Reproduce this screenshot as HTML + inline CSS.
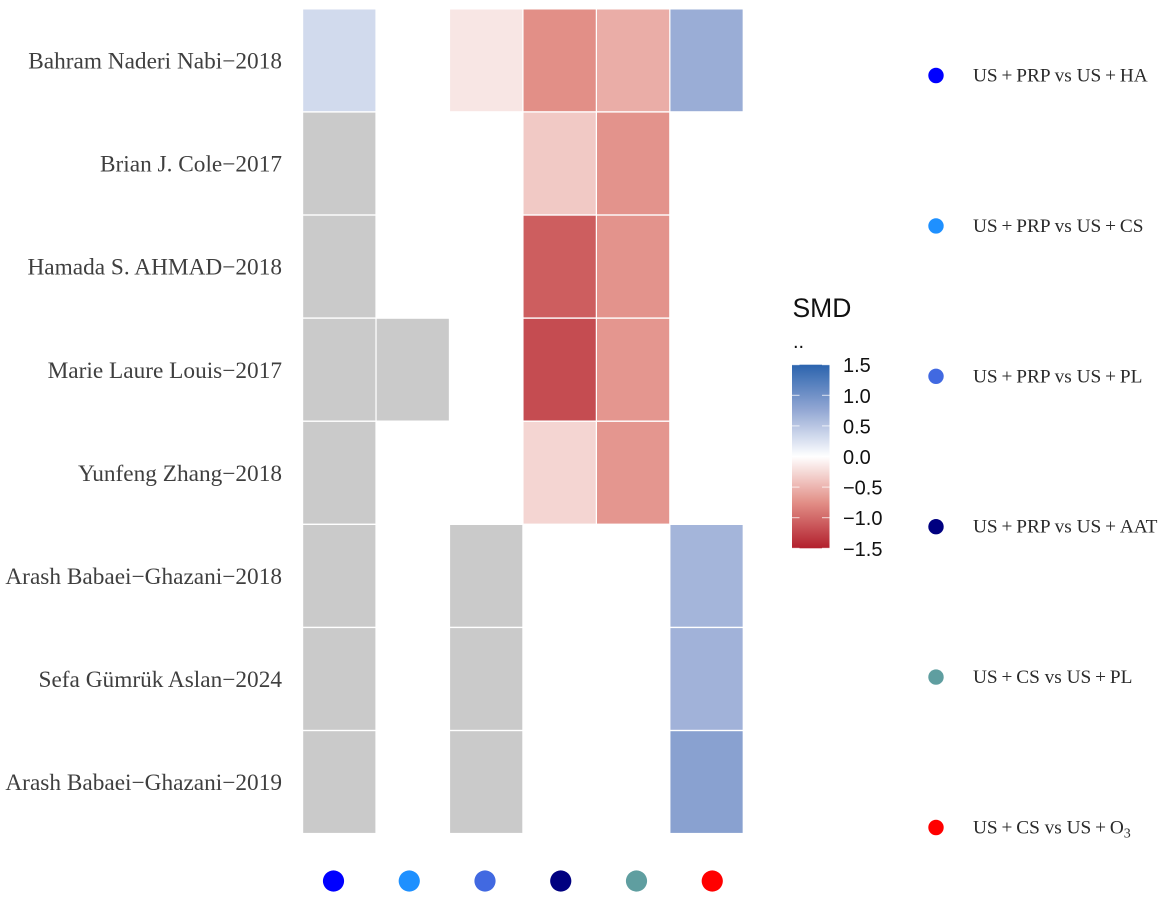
<!DOCTYPE html>
<html lang="en">
<head>
<meta charset="utf-8">
<title>SMD heatmap</title>
<style>
html,body{margin:0;padding:0;background:#fff;width:1170px;height:908px;overflow:hidden}
svg{display:block}
.study{font-family:"Liberation Serif",serif;font-size:23.3px;fill:#3f3f3f}
.legend-text{font-family:"Liberation Serif",serif;font-size:19.3px;fill:#2a2a2a}
.cb{font-family:"Liberation Sans",sans-serif;fill:#111}
</style>
</head>
<body>
<svg id="chart" width="1170" height="908" viewBox="0 0 1170 908" xmlns="http://www.w3.org/2000/svg">
<defs>
<linearGradient id="smd-gradient" x1="0" y1="1" x2="0" y2="0"></linearGradient>
</defs>
<g id="cells"></g>
<g id="study-labels"></g>
<g id="column-dots"></g>
<g id="colorbar"></g>
<g id="legend"></g>
</svg>
<script>
const studies = ["Bahram Naderi Nabi\u22122018","Brian J. Cole\u22122017","Hamada S. AHMAD\u22122018","Marie Laure Louis\u22122017","Yunfeng Zhang\u22122018","Arash Babaei\u2212Ghazani\u22122018","Sefa G\u00fcmr\u00fck Aslan\u22122024","Arash Babaei\u2212Ghazani\u22122019"];
const comparisons = ["US + PRP vs US + HA","US + PRP vs US + CS","US + PRP vs US + PL","US + PRP vs US + AAT","US + CS vs US + PL","US + CS vs US + O"];
const comparisonColors = ["#0000ff","#1e90ff","#4169e1","#000080","#5f9ea0","#ff0000"];
const comparisonSubscripts = ["","","","","","3"];
// "NA" = studied but no estimate (grey); null = comparison not in the study (blank)
const smdRow1 = [0.32,null,-0.17,-0.75,-0.55,0.71];
const smdRow2 = ["NA",null,null,-0.36,-0.72,null];
const smdRow3 = ["NA",null,null,-1.08,-0.72,null];
const smdRow4 = ["NA","NA",null,-1.2,-0.7,null];
const smdRow5 = ["NA",null,null,-0.28,-0.7,null];
const smdRow6 = ["NA",null,"NA",null,null,0.64];
const smdRow7 = ["NA",null,"NA",null,null,0.66];
const smdRow8 = ["NA",null,"NA",null,null,0.83];
const smdMatrix = [smdRow1,smdRow2,smdRow3,smdRow4,smdRow5,smdRow6,smdRow7,smdRow8];
const colorbarTicks = [1.5,1,0.5,0,-0.5,-1,-1.5];
const colorbarLabels = ["1.5","1.0","0.5","0.0","\u22120.5","\u22121.0","\u22121.5"];

const NS = "http://www.w3.org/2000/svg";
const xCell = i => 303.2 + i * 73.45;
const yCell = i => 9.5 + i * 103.1;
const xDot = i => 333.5 + i * 75.75;
const yLegend = i => 75.5 + i * 150.4;
const yBar = v => 456.5 - v * 61.2;
const WHITE = [255,255,255];
const LOW_MID = [226,143,135], LOW = [178,31,45];
const HIGH_MID = [148,168,212], HIGH = [43,100,174];
function smdColor(v){
  const t = Math.min(1, Math.abs(v) / 1.5);
  const mid = v < 0 ? LOW_MID : HIGH_MID;
  const end = v < 0 ? LOW : HIGH;
  const from = t < 0.5 ? WHITE : mid;
  const to = t < 0.5 ? mid : end;
  const u = t < 0.5 ? t * 2 : (t - 0.5) * 2;
  const c = from.map((a, i) => Math.round(a + (to[i] - a) * u));
  return "rgb(" + c.join(",") + ")";
}
function slug(s){
  return s.toLowerCase().replace(/[^a-z0-9]+/g, "-").replace(/^-|-$/g, "");
}

const cellsG = document.getElementById("cells");
smdMatrix.forEach((row, r) => {
  row.forEach((value, c) => {
    if (value === null) return;
    const rect = document.createElementNS(NS, "rect");
    rect.setAttribute("x", xCell(c));
    rect.setAttribute("y", yCell(r));
    rect.setAttribute("width", 72.2);
    rect.setAttribute("height", 101.7);
    rect.setAttribute("fill", value === "NA" ? "#cacaca" : smdColor(value));
    
    
    cellsG.appendChild(rect);
  });
});

const labelsG = document.getElementById("study-labels");
studies.forEach((name, r) => {
  const t = document.createElementNS(NS, "text");
  t.setAttribute("class", "study");
  t.setAttribute("x", 282);
  t.setAttribute("y", yCell(r) + 59);
  t.setAttribute("text-anchor", "end");
  
  
  t.textContent = name;
  labelsG.appendChild(t);
});

const dotsG = document.getElementById("column-dots");
comparisonColors.forEach((color, i) => {
  const d = document.createElementNS(NS, "circle");
  d.setAttribute("cx", xDot(i));
  d.setAttribute("cy", 881);
  d.setAttribute("r", 10.6);
  d.setAttribute("fill", color);
  
  
  dotsG.appendChild(d);
});

const grad = document.getElementById("smd-gradient");
for (let k = 0; k <= 24; k++) {
  const v = -1.5 + k * 0.125;
  const stop = document.createElementNS(NS, "stop");
  stop.setAttribute("offset", (k / 24 * 100) + "%");
  stop.setAttribute("stop-color", smdColor(v));
  grad.appendChild(stop);
}

const barG = document.getElementById("colorbar");
const title = document.createElementNS(NS, "text");
title.setAttribute("class", "cb");
title.setAttribute("x", 792.5);
title.setAttribute("y", 317);
title.setAttribute("font-size", "26.5");


title.textContent = "SMD";
barG.appendChild(title);

const dots = document.createElementNS(NS, "text");
dots.setAttribute("class", "cb");
dots.setAttribute("x", 793);
dots.setAttribute("y", 348);
dots.setAttribute("font-size", "20");


dots.textContent = "..";
barG.appendChild(dots);

const bar = document.createElementNS(NS, "rect");
bar.setAttribute("x", 792);
bar.setAttribute("y", yBar(1.5));
bar.setAttribute("width", 37.5);
bar.setAttribute("height", yBar(-1.5) - yBar(1.5));
bar.setAttribute("fill", "url(#smd-gradient)");


barG.appendChild(bar);

colorbarTicks.forEach((v, i) => {
  [[792, 799.5], [822, 829.5]].forEach((seg, s) => {
    const tick = document.createElementNS(NS, "line");
    tick.setAttribute("x1", seg[0]);
    tick.setAttribute("x2", seg[1]);
    tick.setAttribute("y1", yBar(v));
    tick.setAttribute("y2", yBar(v));
    tick.setAttribute("stroke", "#ffffff");
    tick.setAttribute("stroke-opacity", "0.75");
    tick.setAttribute("stroke-width", "1");
    
    
    barG.appendChild(tick);
  });
  const label = document.createElementNS(NS, "text");
  label.setAttribute("class", "cb");
  label.setAttribute("x", 843);
  label.setAttribute("y", yBar(v) + 7.5);
  label.setAttribute("font-size", "20");
  
  
  label.textContent = colorbarLabels[i];
  barG.appendChild(label);
});

const legendG = document.getElementById("legend");
comparisons.forEach((name, i) => {
  const entry = document.createElementNS(NS, "g");
  
  
  const mark = document.createElementNS(NS, "circle");
  mark.setAttribute("cx", 936);
  mark.setAttribute("cy", yLegend(i));
  mark.setAttribute("r", 7.7);
  mark.setAttribute("fill", comparisonColors[i]);
  
  
  entry.appendChild(mark);
  const text = document.createElementNS(NS, "text");
  text.setAttribute("class", "legend-text");
  text.setAttribute("x", 973);
  text.setAttribute("y", yLegend(i) + 6);
  
  
  text.textContent = name.replace(/ \+ /g, "\u2009+\u2009");
  if (comparisonSubscripts[i]) {
    const sub = document.createElementNS(NS, "tspan");
    sub.setAttribute("dy", "4");
    sub.setAttribute("font-size", "14");
    sub.textContent = comparisonSubscripts[i];
    text.appendChild(sub);
  }
  entry.appendChild(text);
  legendG.appendChild(entry);
});
</script>
</body>
</html>
